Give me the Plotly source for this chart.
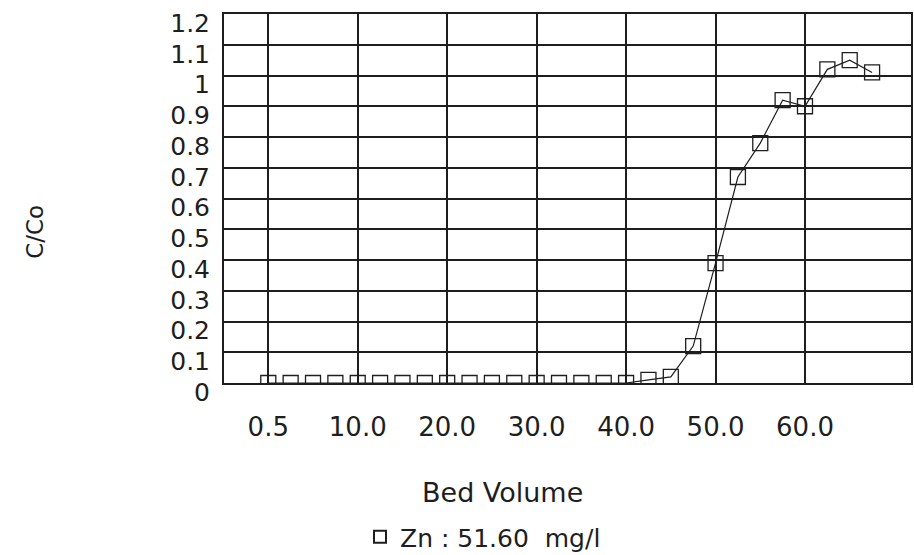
import plotly.graph_objects as go

# Bed volume at each sampling point (evenly spaced categories)
bed_volume = ["0.5", "2.5", "5.0", "7.5", "10.0", "12.5", "15.0", "17.5",
              "20.0", "22.5", "25.0", "27.5", "30.0", "32.5", "35.0", "37.5",
              "40.0", "42.5", "45.0", "47.5", "50.0", "52.5", "55.0", "57.5",
              "60.0", "62.5", "65.0", "67.5"]

# Effluent / influent concentration ratio for Zn
c_over_c0 = [0, 0, 0, 0, 0, 0, 0, 0,
             0, 0, 0, 0, 0, 0, 0, 0,
             0, 0.01, 0.02, 0.12, 0.39, 0.67, 0.78, 0.92,
             0.90, 1.02, 1.05, 1.01]

# Axis ticks
x_tick_labels = ["0.5", "10.0", "20.0", "30.0", "40.0", "50.0", "60.0"]
y_tick_values = [0, 0.1, 0.2, 0.3, 0.4, 0.5, 0.6, 0.7, 0.8, 0.9, 1.0, 1.1, 1.2]
y_tick_labels = ["0", "0.1", "0.2", "0.3", "0.4", "0.5", "0.6", "0.7",
                 "0.8", "0.9", "1", "1.1", "1.2"]

series_name = "Zn : 51.60&nbsp; mg/l"

INK = "#1e1e1e"
FONT = "DejaVu Sans"

fig = go.Figure()

# connecting line
fig.add_trace(go.Scatter(
    x=bed_volume, y=c_over_c0, mode="lines",
    line=dict(color=INK, width=1.2),
    showlegend=False, hoverinfo="skip",
))

# open square markers (also used for the legend entry)
fig.add_trace(go.Scatter(
    x=bed_volume, y=c_over_c0, mode="markers",
    name=series_name,
    marker=dict(symbol="square-open", size=15, color=INK,
                line=dict(width=1.3, color=INK)),
))

fig.update_layout(
    width=914, height=555,
    margin=dict(l=224, r=3, t=14, b=172),
    paper_bgcolor="white",
    plot_bgcolor="white",
    font=dict(family=FONT, color=INK),
    showlegend=True,
    legend=dict(
        orientation="h",
        xref="container", yref="container",
        x=360 / 914, xanchor="left",
        y=1 - 537 / 555, yanchor="middle",
        font=dict(size=25, family=FONT, color=INK),
        itemsizing="constant",
        bgcolor="rgba(0,0,0,0)",
    ),
    xaxis=dict(
        type="category",
        categoryorder="array", categoryarray=bed_volume,
        range=[-1.98, 28.74],
        tickmode="array", tickvals=x_tick_labels, ticktext=x_tick_labels,
        ticks="", ticklabelstandoff=20,
        tickfont=dict(size=26, family=FONT, color=INK),
        showgrid=True, gridcolor=INK, gridwidth=1.7,
        showline=True, linecolor=INK, linewidth=2, mirror=True,
        zeroline=False, automargin=False,
    ),
    yaxis=dict(
        range=[0, 1.2],
        tickmode="array", tickvals=y_tick_values, ticktext=y_tick_labels,
        ticks="", ticklabelstandoff=7, ticklabelshift=9,
        ticklabeloverflow="allow",
        tickfont=dict(size=25, family=FONT, color=INK),
        showgrid=True, gridcolor=INK, gridwidth=1.7,
        showline=True, linecolor=INK, linewidth=2, mirror=True,
        zeroline=False, automargin=False,
    ),
    annotations=[
        dict(text="Bed Volume", xref="paper", yref="paper",
             x=(502 - 224) / 687, y=(383.3 - 493) / 369.3,
             xanchor="center", yanchor="middle", showarrow=False,
             font=dict(size=27, family=FONT, color=INK)),
        dict(text="C/Co", xref="paper", yref="paper",
             x=(35 - 224) / 687, y=(383.3 - 232) / 369.3,
             xanchor="center", yanchor="middle", showarrow=False,
             textangle=-90,
             font=dict(size=23, family=FONT, color=INK)),
    ],
)

fig.write_html("out.html")
